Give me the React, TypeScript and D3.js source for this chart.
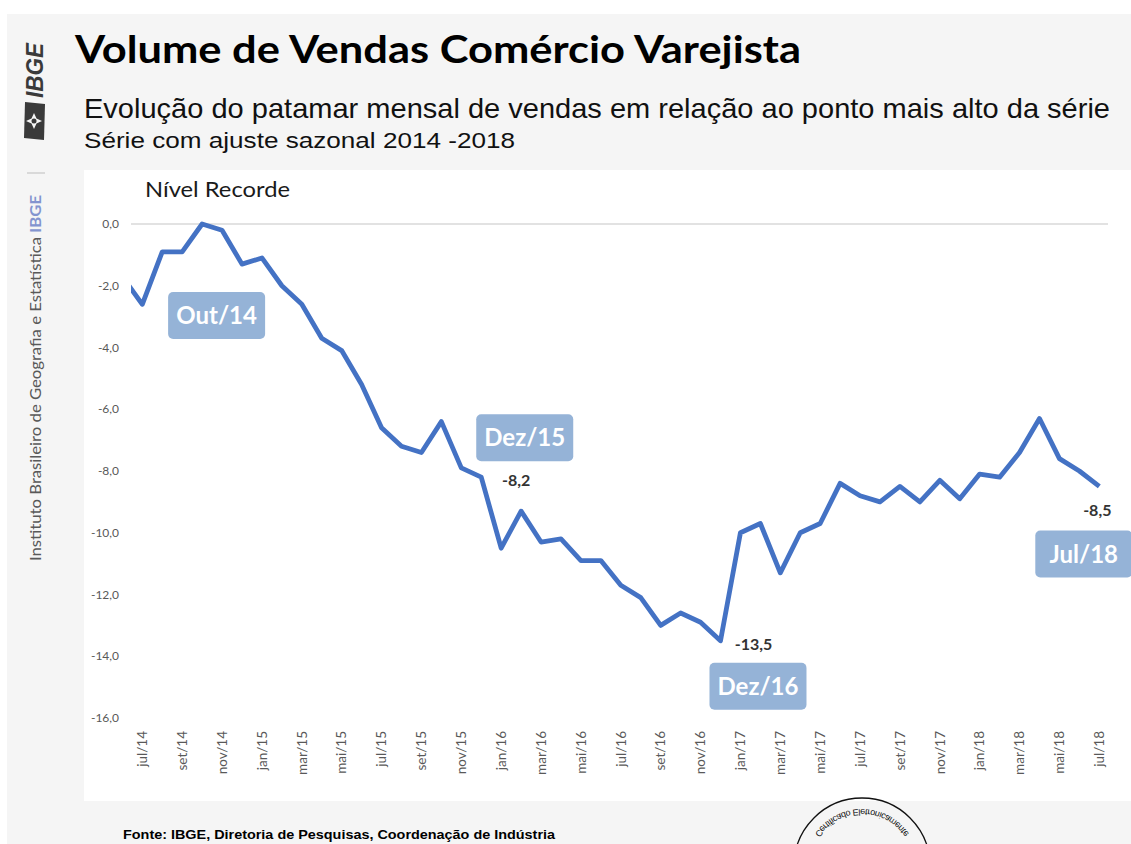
import React from "react";
import * as d3 from "d3";

const months: string[] = [
  "jun/14", "jul/14", "ago/14", "set/14", "out/14", "nov/14", "dez/14",
  "jan/15", "fev/15", "mar/15", "abr/15", "mai/15", "jun/15", "jul/15", "ago/15", "set/15", "out/15", "nov/15", "dez/15",
  "jan/16", "fev/16", "mar/16", "abr/16", "mai/16", "jun/16", "jul/16", "ago/16", "set/16", "out/16", "nov/16", "dez/16",
  "jan/17", "fev/17", "mar/17", "abr/17", "mai/17", "jun/17", "jul/17", "ago/17", "set/17", "out/17", "nov/17", "dez/17",
  "jan/18", "fev/18", "mar/18", "abr/18", "mai/18", "jun/18", "jul/18",
];

const values: number[] = [
  -1.7, -2.6, -0.9, -0.9, 0.0, -0.2, -1.3,
  -1.1, -2.0, -2.6, -3.7, -4.1, -5.2, -6.6, -7.2, -7.4, -6.4, -7.9, -8.2,
  -10.5, -9.3, -10.3, -10.2, -10.9, -10.9, -11.7, -12.1, -13.0, -12.6, -12.9, -13.5,
  -10.0, -9.7, -11.3, -10.0, -9.7, -8.4, -8.8, -9.0, -8.5, -9.0, -8.3, -8.9,
  -8.1, -8.2, -7.4, -6.3, -7.6, -8.0, -8.5,
];

const yTicks: number[] = [0, -2, -4, -6, -8, -10, -12, -14, -16];
const xTickLabels: string[] = months.filter((_, i) => i % 2 === 1);

const boxLabels: string[] = ["Out/14", "Dez/15", "Dez/16", "Jul/18"];
const boxMonths: string[] = ["out/14", "dez/15", "dez/16", "jul/18"];
const valueLabelMonths: string[] = ["dez/15", "dez/16", "jul/18"];

const locale = d3.formatLocale({ decimal: ",", thousands: ".", grouping: [3], currency: ["R$", ""], minus: "-" });
const fmt = locale.format(".1f");

export default function App() {
  const W = 1131, H = 844;
  const x = d3.scaleLinear().domain([1, 49]).range([142.3, 1099.3]);
  const y = d3.scaleLinear().domain([-16, 0]).range([718, 224]);
  const idx = (m: string) => months.indexOf(m);

  const line = d3.line<number>().x((_, i) => x(i)).y((v) => y(v));

  // layout offsets of annotation boxes relative to their data point
  const boxOffsets: [number, number][] = [[-34, 68], [-5, -63], [-11, 22], [-64, 44]];
  const boxW = 97, boxH = 47;
  const valueOffsets: [number, number][] = [[35, 9], [33, 9], [-2, 30]];

  const cx = 862, cy = 866, r = 68, rt = 57;
  const arcPath = `M ${cx - rt} ${cy} A ${rt} ${rt} 0 0 0 ${cx + rt} ${cy}`;

  const calibri = "Lato, 'Open Sans', sans-serif";
  const arial = "'Liberation Sans', Arial, sans-serif";

  return (
    <svg width={W} height={H} style={{ position: "absolute", left: 0, top: 0, display: "block" }}>
      <rect x={0} y={0} width={W} height={H} fill="#ffffff" />
      <rect x={7} y={14} width={W - 7} height={H - 14} fill="#f5f5f5" />
      <rect x={84} y={170} width={W - 84} height={631} fill="#ffffff" />

      {/* IBGE logo */}
      <g transform="translate(43,98) rotate(-90)">
        <text x={0} y={0} fontFamily={arial} fontWeight={900} fontStyle="italic" fontSize={24}
          fill="#3a3a3a" textLength={55} lengthAdjust="spacingAndGlyphs">IBGE</text>
      </g>
      <g transform="translate(34,121)">
        <path d="M -9 -19 L 11 -17 L 10 19 L -10 17 Z" fill="#3a3a3a" />
        <path d="M 0 -8 L 2.5 -2.5 L 8 0 L 2.5 2.5 L 0 8 L -2.5 2.5 L -8 0 L -2.5 -2.5 Z" fill="#f5f5f5" />
        <circle cx={0} cy={0} r={2.5} fill="#3a3a3a" />
      </g>
      <line x1={27} x2={45} y1={173} y2={173} stroke="#cfcfcf" strokeWidth={1.5} />
      <g transform="translate(41,561) rotate(-90)">
        <text x={0} y={0} fontFamily={calibri} fontSize={15} fill="#595959" textLength={366} lengthAdjust="spacingAndGlyphs">
          Instituto Brasileiro de Geografia e Estatística <tspan fill="#8394cf" fontWeight={700}>IBGE</tspan>
        </text>
      </g>

      {/* titles */}
      <text x={75} y={63} fontFamily={calibri} fontWeight={700} fontSize={38} fill="#000"
        textLength={726} lengthAdjust="spacingAndGlyphs">Volume de Vendas Comércio Varejista</text>
      <text x={84} y={118} fontFamily={arial} fontSize={28} fill="#111"
        textLength={1026} lengthAdjust="spacingAndGlyphs">Evolução do patamar mensal de vendas em relação ao ponto mais alto da série</text>
      <text x={84} y={148} fontFamily={arial} fontSize={22} fill="#111"
        textLength={431} lengthAdjust="spacingAndGlyphs">Série com ajuste sazonal 2014 -2018</text>

      <text x={145} y={197} fontFamily={calibri} fontSize={21} fill="#1a1a1a"
        textLength={145} lengthAdjust="spacingAndGlyphs">Nível Recorde</text>

      {/* zero line */}
      <line x1={131} x2={1108} y1={y(0)} y2={y(0)} stroke="#d9d9d9" strokeWidth={1.5} />

      {/* y ticks */}
      {yTicks.map((t) => (
        <text key={t} x={119} y={y(t)} dy="0.35em" textAnchor="end" fontFamily={calibri} fontSize={12} fill="#595959">
          {fmt(t)}
        </text>
      ))}

      {/* x ticks */}
      {xTickLabels.map((m) => (
        <text key={m} transform={`translate(${x(idx(m))},731) rotate(-90)`} dy="0.35em" textAnchor="end"
          fontFamily={calibri} fontSize={13.5} fill="#595959">{m}</text>
      ))}

      <defs>
        <clipPath id="plotclip">
          <rect x={131} y={150} width={1000} height={600} />
        </clipPath>
        <path id="stamparc" d={arcPath} />
      </defs>

      <path d={line(values) || ""} fill="none" stroke="#4472c4" strokeWidth={4.8}
        strokeLinejoin="round" strokeLinecap="butt" clipPath="url(#plotclip)" />

      {/* annotation boxes */}
      {boxMonths.map((m, i) => {
        const px = x(idx(m)), py = y(values[idx(m)]);
        const bx = px + boxOffsets[i][0], by = py + boxOffsets[i][1];
        return (
          <g key={m}>
            <rect x={bx} y={by} width={boxW} height={boxH} rx={5} fill="#95b3d7" />
            <text x={bx + boxW / 2} y={by + boxH / 2} dy="0.36em" textAnchor="middle" fontFamily={calibri}
              fontWeight={700} fontSize={24} fill="#ffffff">{boxLabels[i]}</text>
          </g>
        );
      })}

      {/* value labels */}
      {valueLabelMonths.map((m, i) => {
        const px = x(idx(m)), py = y(values[idx(m)]);
        return (
          <text key={m} x={px + valueOffsets[i][0]} y={py + valueOffsets[i][1]} textAnchor="middle"
            fontFamily={calibri} fontWeight={700} fontSize={16} fill="#333">{fmt(values[idx(m)])}</text>
        );
      })}

      {/* footer */}
      <text x={123} y={839} fontFamily={arial} fontWeight={700} fontSize={13} fill="#000"
        textLength={432} lengthAdjust="spacingAndGlyphs">Fonte: IBGE, Diretoria de Pesquisas, Coordenação de Indústria</text>

      {/* stamp */}
      <circle cx={cx} cy={cy} r={r} fill="none" stroke="#111" strokeWidth={1.3} />
      <g transform={`translate(0,${2 * cy}) scale(1,-1)`}>
        <text fontFamily={arial} fontSize={9} fill="#111">
          <textPath href="#stamparc" startOffset="50%" textAnchor="middle">Certificado Eletronicamente</textPath>
        </text>
      </g>
    </svg>
  );
}
